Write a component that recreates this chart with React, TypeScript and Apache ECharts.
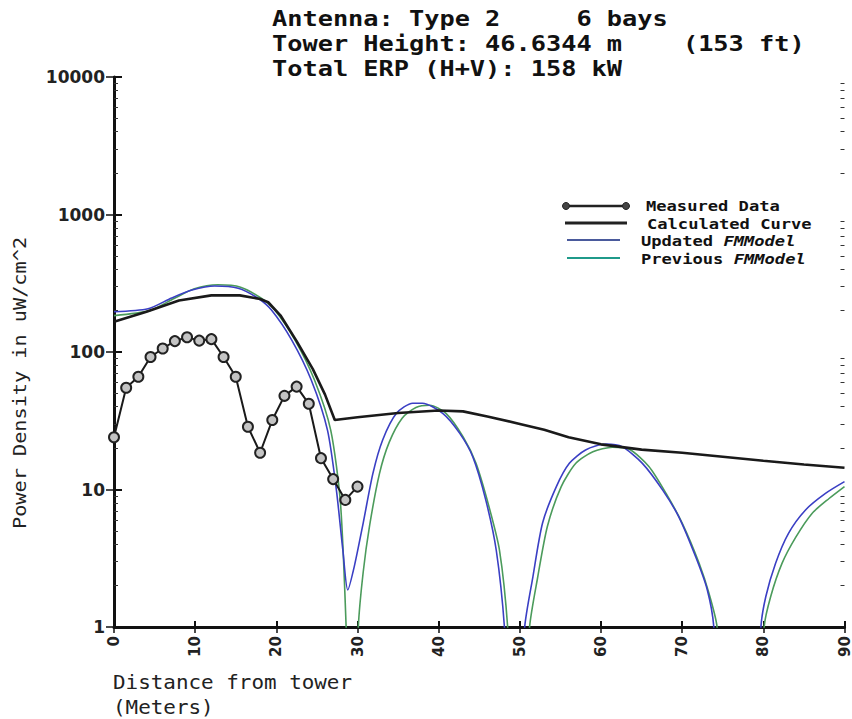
import React, { useEffect, useRef } from 'react';
import * as echarts from 'echarts';

// ---- data ----
const measuredDistance = [0, 1.5, 3, 4.5, 6, 7.5, 9, 10.5, 12, 13.5, 15, 16.5, 18, 19.5, 21, 22.5, 24, 25.5, 27, 28.5, 30];
const measuredDensity = [24, 55, 66, 92, 106, 120, 128, 121, 124, 92, 66, 28.6, 18.5, 32, 48, 56, 42, 16.9, 11.9, 8.4, 10.5];

const calculatedDistance = [0, 4, 8, 12, 15.5, 18, 19, 20.5, 22.5, 24.5, 26, 27.2, 30, 35, 40, 43, 46, 50, 53, 56, 60, 65, 70, 75, 80, 85, 90];
const calculatedDensity = [166, 196, 237, 258, 258, 243, 230, 185, 120, 75, 49, 32, 33.5, 36, 37.5, 37, 34, 30, 27.2, 24, 21.3, 19.5, 18.5, 17.3, 16.2, 15.2, 14.4];

const updatedDistance = [0, 4.2, 7.1, 9.6, 12.4, 15.3, 17.7, 19.4, 21.9, 24.3, 26.3, 27.4, 28.2, 28.8, 29.6, 30.7, 31.9, 33.1, 34.8, 36.8, 38.0, 40.5, 42.6, 44.2, 45.8, 47.1, 48.1, 48.6, 50.1, 50.6, 51.6, 52.8, 54.5, 56.1, 58.1, 60.6, 62.6, 65.1, 67.6, 69.6, 71.7, 73.1, 73.9, 74.4, 79.2, 79.7, 80.3, 81.5, 83.1, 85.2, 87.7, 90];
const updatedDensity = [196, 206, 247, 282, 302, 291, 247, 202, 122, 62.5, 27, 9.9, 3.6, 1.86, 2.75, 5.7, 13.1, 22.9, 35.8, 42.4, 42.4, 35.8, 25.6, 17.3, 8.4, 3.6, 1.0, 0.2, 0.2, 1.0, 2.3, 5.7, 10.5, 15.5, 19.4, 21.4, 20.5, 15.5, 9.9, 6.3, 3.2, 1.86, 1.0, 0.2, 0.2, 1.0, 1.66, 2.9, 4.8, 7.1, 9.4, 11.4];

const previousDistance = [0, 4.4, 7.4, 9.9, 12.8, 15.6, 18.1, 19.8, 22.3, 24.7, 26.7, 27.9, 28.6, 28.9, 29.8, 30.1, 30.7, 31.5, 32.7, 33.9, 35.5, 37.2, 38.9, 40.9, 43.0, 44.6, 46.2, 47.5, 48.5, 49.0, 50.7, 51.2, 52.2, 53.4, 55.1, 56.9, 59.0, 61.4, 63.5, 65.9, 68.0, 70.0, 72.1, 73.3, 74.3, 74.8, 79.6, 80.1, 80.9, 82.3, 84.0, 86.0, 88.1, 90];
const previousDensity = [184, 200, 245, 288, 308, 296, 247, 202, 122, 62.5, 27, 8, 1.0, 0.2, 0.2, 1.0, 2.5, 5.5, 13, 22, 33, 39.5, 41, 35.8, 24.2, 15.5, 7.5, 3.6, 1.0, 0.2, 0.2, 1.0, 2.3, 5.4, 10.5, 15.5, 18.8, 20.3, 19.6, 14.7, 9.4, 5.7, 2.9, 1.76, 1.0, 0.2, 0.2, 1.0, 1.66, 2.9, 4.5, 6.7, 8.6, 10.5];

const titleLines = ['Antenna: Type 2     6 bays', 'Tower Height: 46.6344 m    (153 ft)', 'Total ERP (H+V): 158 kW'];
const legendNames = ['Measured Data', 'Calculated Curve', 'Updated {it|FMModel}', 'Previous {it|FMModel}'];
const xAxisTitle = ['Distance from tower', '(Meters)'];
const yAxisTitle = 'Power Density in uW/cm^2';

const xMin = 0;
const xMax = 90;
const xInterval = 10;
const yMin = 1;
const yMax = 10000;

// minor tick positions (log10 of 2..9 per decade), used on linear helper axes 0..4
const minorTickLogs: number[] = [];
for (let d = 0; d < 4; d++) {
  for (let k = 2; k <= 9; k++) minorTickLogs.push(Math.log10(k) + d);
}

const pairs = (xs: number[], ys: number[]) => xs.map((x, i) => [x, ys[i]]);

const MONO = '"DejaVu Sans Mono", monospace';
const SANS = '"DejaVu Sans", sans-serif';
const BLUE = '#3a3fc4';
const GREEN = '#4b9b5b';

function buildOption() {
  const graphics: any[] = [];
  // title
  const titleY = [19, 44, 69];
  titleLines.forEach((t, i) => {
    graphics.push({
      type: 'text', x: 272, y: titleY[i], scaleX: 1.15, z: 100,
      style: { text: t, fontFamily: MONO, fontSize: 22, fontWeight: 'bold', fill: '#111', align: 'left', verticalAlign: 'middle' },
    });
  });
  // legend
  const legY = [206, 223, 240, 258];
  graphics.push({ type: 'line', shape: { x1: 565, y1: legY[0], x2: 627, y2: legY[0] }, style: { stroke: '#222', lineWidth: 2.5 } });
  graphics.push({ type: 'circle', shape: { cx: 566, cy: legY[0], r: 3.5 }, style: { fill: '#444', stroke: '#222', lineWidth: 1 } });
  graphics.push({ type: 'circle', shape: { cx: 626, cy: legY[0], r: 3.5 }, style: { fill: '#444', stroke: '#222', lineWidth: 1 } });
  graphics.push({ type: 'line', shape: { x1: 565, y1: legY[1], x2: 627, y2: legY[1] }, style: { stroke: '#222', lineWidth: 3 } });
  graphics.push({ type: 'line', shape: { x1: 567, y1: legY[2], x2: 620, y2: legY[2] }, style: { stroke: '#4a5a9c', lineWidth: 2 } });
  graphics.push({ type: 'line', shape: { x1: 567, y1: legY[3], x2: 620, y2: legY[3] }, style: { stroke: '#1f9a8a', lineWidth: 2 } });
  const legX = [646, 647, 641, 641];
  const legTY = [206, 224, 241, 259];
  legendNames.forEach((t, i) => {
    graphics.push({
      type: 'text', x: legX[i], y: legTY[i], scaleX: 1.18,
      style: {
        text: t, fontFamily: MONO, fontSize: 14.5, fontWeight: 'bold', fill: '#111', align: 'left', verticalAlign: 'middle',
        rich: { it: { fontFamily: MONO, fontSize: 14.5, fontWeight: 'bold', fontStyle: 'italic', fill: '#111' } },
      },
    });
  });
  // axis titles
  graphics.push({
    type: 'text', x: 113, y: 682, scaleX: 1.1,
    style: { text: xAxisTitle[0], fontFamily: MONO, fontSize: 19, fill: '#222', align: 'left', verticalAlign: 'middle' },
  });
  graphics.push({
    type: 'text', x: 113, y: 707, scaleX: 1.1,
    style: { text: xAxisTitle[1], fontFamily: MONO, fontSize: 19, fill: '#222', align: 'left', verticalAlign: 'middle' },
  });
  graphics.push({
    type: 'text', x: 20, y: 383, rotation: Math.PI / 2, scaleX: 1.19,
    style: { text: yAxisTitle, fontFamily: MONO, fontSize: 17, fill: '#222', align: 'center', verticalAlign: 'middle' },
  });

  const tickLabelFmt = (v: number) => String(Math.round(v));

  return {
    animation: false,
    backgroundColor: '#ffffff',
    grid: { left: 114, right: 6, top: 77, bottom: 92 },
    xAxis: [
      {
        type: 'value', position: 'bottom', min: xMin, max: xMax, interval: xInterval,
        axisLine: { show: true, lineStyle: { color: '#111', width: 3 } },
        axisTick: { show: true, inside: true, length: 6, lineStyle: { color: '#111', width: 2 } },
        axisLabel: { rotate: 90, margin: 9, fontFamily: SANS, fontWeight: 'bold', fontSize: 15, color: '#222', formatter: tickLabelFmt },
        splitLine: { show: false },
      },
      {
        type: 'value', position: 'top', min: xMin, max: xMax, interval: xInterval,
        axisLine: { show: true, lineStyle: { color: '#111', width: 2 } },
        axisTick: { show: true, inside: true, length: 6, lineStyle: { color: '#111', width: 1.5 } },
        axisLabel: { show: false },
        splitLine: { show: false },
      },
    ],
    yAxis: [
      {
        type: 'log', logBase: 10, position: 'left', min: yMin, max: yMax,
        axisLine: { show: true, lineStyle: { color: '#111', width: 3 } },
        axisTick: { show: true, inside: true, length: 8, lineStyle: { color: '#111', width: 2 } },
        axisLabel: { margin: 9, fontFamily: SANS, fontWeight: 'bold', fontSize: 17, color: '#222', formatter: tickLabelFmt },
        splitLine: { show: false },
        minorTick: { show: false },
      },
      {
        type: 'log', logBase: 10, position: 'right', min: yMin, max: yMax,
        axisLine: { show: true, lineStyle: { color: '#111', width: 2 } },
        axisTick: { show: true, inside: true, length: 8, lineStyle: { color: '#111', width: 1.5 } },
        axisLabel: { show: false },
        splitLine: { show: false },
      },
      {
        type: 'value', position: 'left', min: 0, max: 4,
        axisLine: { show: false },
        axisTick: { show: true, inside: true, length: 4, customValues: minorTickLogs, lineStyle: { color: '#333', width: 1 } },
        axisLabel: { show: false },
        splitLine: { show: false },
      },
      {
        type: 'value', position: 'right', min: 0, max: 4,
        axisLine: { show: false },
        axisTick: { show: true, inside: true, length: 4, customValues: minorTickLogs, lineStyle: { color: '#333', width: 1 } },
        axisLabel: { show: false },
        splitLine: { show: false },
      },
    ],
    series: [
      {
        name: 'Previous FMModel', type: 'line', data: pairs(previousDistance, previousDensity),
        showSymbol: false, smooth: 0.25, clip: true,
        lineStyle: { color: GREEN, width: 1.6 },
      },
      {
        name: 'Updated FMModel', type: 'line', data: pairs(updatedDistance, updatedDensity),
        showSymbol: false, smooth: 0.25, clip: true,
        lineStyle: { color: BLUE, width: 1.6 },
      },
      {
        name: 'Calculated Curve', type: 'line', data: pairs(calculatedDistance, calculatedDensity),
        showSymbol: false, smooth: false, clip: true,
        lineStyle: { color: '#1a1a1a', width: 2.6 },
      },
      {
        name: 'Measured Data', type: 'line', data: pairs(measuredDistance, measuredDensity),
        symbol: 'circle', symbolSize: 10, clip: true,
        lineStyle: { color: '#1a1a1a', width: 2 },
        itemStyle: { color: '#c4c4c4', borderColor: '#222', borderWidth: 2 },
      },
    ],
    graphic: graphics,
  };
}

export default function App() {
  const ref = useRef<HTMLDivElement>(null);
  useEffect(() => {
    if (!ref.current) return;
    const chart = echarts.init(ref.current, null, { renderer: 'svg' });
    chart.setOption(buildOption() as any);
    return () => chart.dispose();
  }, []);
  return (
    <div
      ref={ref}
      style={{ position: 'fixed', left: 0, top: 0, width: 852, height: 719, background: '#fff' }}
    />
  );
}
